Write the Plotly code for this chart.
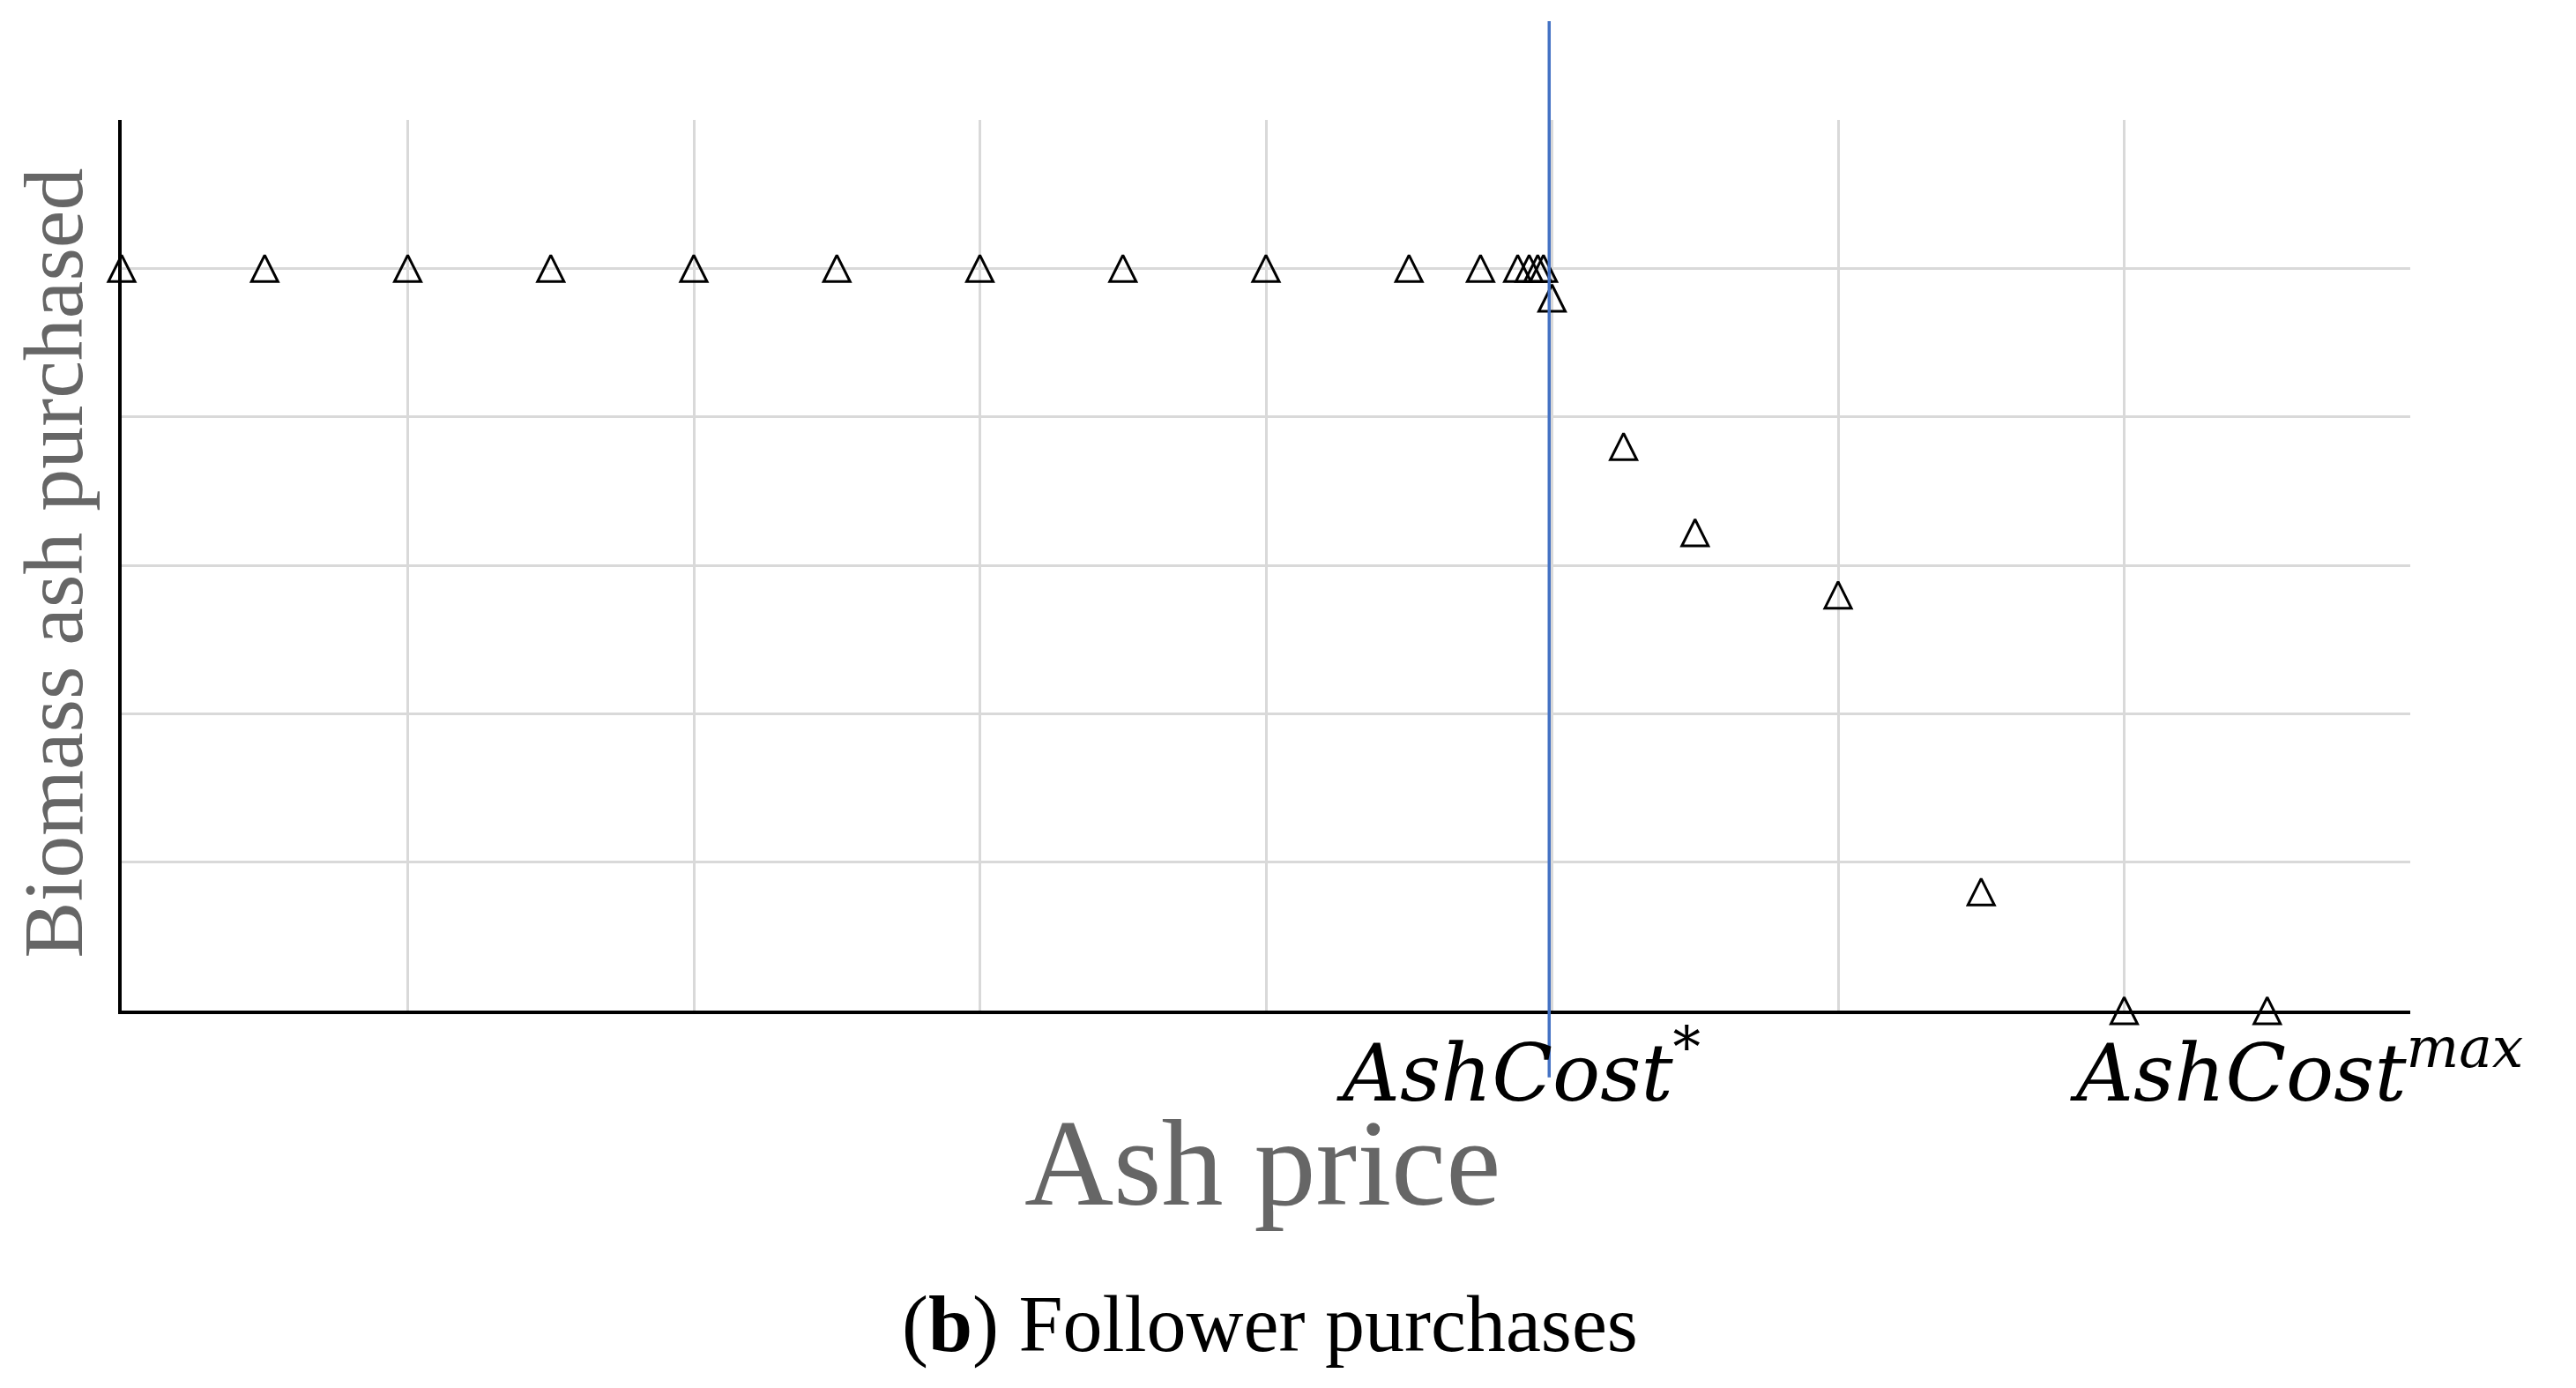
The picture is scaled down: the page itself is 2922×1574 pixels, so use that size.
import plotly.graph_objects as go

# ash price (x) vs biomass ash purchased by the follower (y)
ash_price = [0, 0.5, 1, 1.5, 2, 2.5, 3, 3.5, 4, 4.5, 4.75, 4.88, 4.92, 4.95, 4.97,
             5.0, 5.25, 5.5, 6.0, 6.5, 7.0, 7.5]
ash_purchased = [5, 5, 5, 5, 5, 5, 5, 5, 5, 5, 5, 5, 5, 5, 5,
                 4.8, 3.8, 3.22, 2.8, 0.8, 0, 0]

ash_cost_star = 4.99
x_range = [0, 8]
y_range = [0, 6]

x_title = "Ash price"
y_title = "Biomass ash purchased"
caption = "(<b>b</b>) Follower purchases"
label_star = "<i>AshCost</i><sup>*</sup>"
label_max = "<i>AshCost<sup>max</sup></i>"

grid_color = "#D9D9D9"
title_gray = "#666666"
serif = "Liberation Serif"
math_font = "DejaVu Serif"

fig = go.Figure()

# arrow-down rotated 180 with a standoff gives a triangle centred on the point
fig.add_trace(
    go.Scatter(
        x=ash_price,
        y=ash_purchased,
        mode="markers",
        cliponaxis=False,
        marker=dict(
            symbol="arrow-down",
            angle=180,
            standoff=15,
            size=30,
            color="rgba(0,0,0,0)",
            line=dict(color="black", width=3),
        ),
        showlegend=False,
    )
)

fig.add_shape(
    type="line",
    xref="x",
    yref="paper",
    x0=ash_cost_star,
    x1=ash_cost_star,
    y0=-0.075,
    y1=1.111,
    line=dict(color="#4472C4", width=3.5),
)

annotations = [
    dict(text=label_star, x=0.530, y=-0.064, xanchor="left", yanchor="middle",
         font=dict(family=math_font, size=90, color="black")),
    dict(text=label_max, x=0.8505, y=-0.064, xanchor="left", yanchor="middle",
         font=dict(family=math_font, size=90, color="black")),
    dict(text=x_title, x=0.4985, y=-0.171, xanchor="center", yanchor="middle",
         font=dict(family=serif, size=140, color=title_gray)),
    dict(text=y_title, x=-0.0295, y=0.503, xanchor="center", yanchor="middle",
         textangle=-90, font=dict(family=serif, size=96, color=title_gray)),
    dict(text=caption, x=0.5017, y=-0.352, xanchor="center", yanchor="middle",
         font=dict(family=serif, size=90, color="black")),
]
for a in annotations:
    fig.add_annotation(xref="paper", yref="paper", showarrow=False, **a)

fig.update_xaxes(
    range=x_range,
    dtick=1,
    showgrid=True,
    gridcolor=grid_color,
    gridwidth=3,
    zeroline=False,
    showline=True,
    linecolor="black",
    linewidth=4,
    showticklabels=False,
    ticks="",
)
fig.update_yaxes(
    range=y_range,
    dtick=1,
    showgrid=True,
    gridcolor=grid_color,
    gridwidth=3,
    zeroline=False,
    showline=True,
    linecolor="black",
    linewidth=4,
    showticklabels=False,
    ticks="",
)

# the page body adds an 8px margin, so the figure is 8px smaller
fig.update_layout(
    width=2914,
    height=1566,
    margin=dict(l=130, r=188, t=128, b=428),
    paper_bgcolor="white",
    plot_bgcolor="white",
)

fig.write_html("out.html")
